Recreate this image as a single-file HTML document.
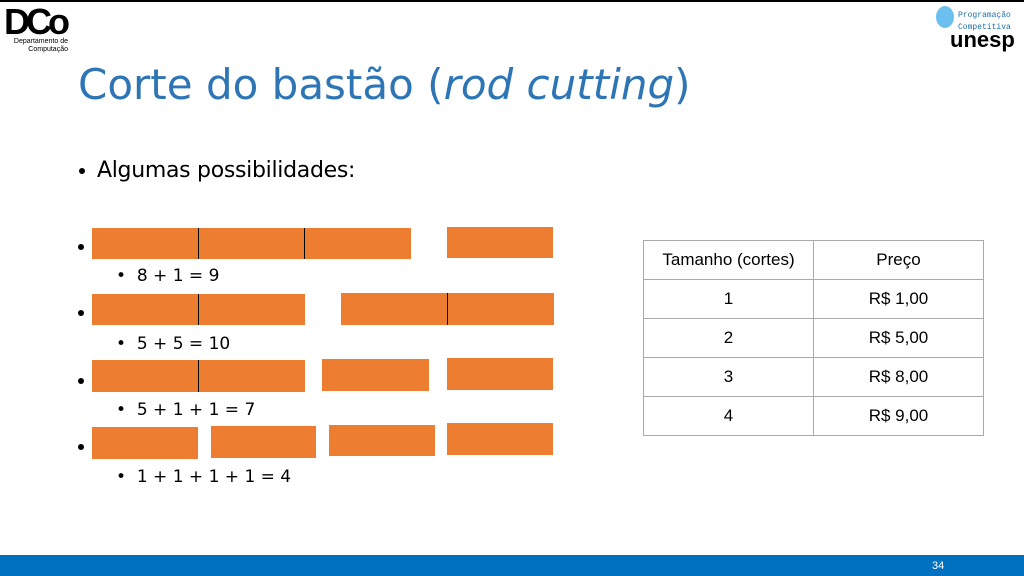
<!DOCTYPE html>
<html><head><style>
body{margin:0;width:1024px;height:576px;position:relative;background:#fff;overflow:hidden;font-family:"Liberation Sans","DejaVu Sans",sans-serif}
.a{position:absolute}
.b{position:absolute;background:#ed7d31}
.d{position:absolute;width:1px;background:#000}
.t{position:absolute;font-family:"DejaVu Sans",sans-serif;font-size:17px;color:#000}
.bl{position:absolute;width:6px;height:6px;border-radius:50%;background:#000}
table{position:absolute;left:643px;top:240px;border-collapse:collapse;font-size:17px}
td{border:1px solid #aaa;height:38px;text-align:center;padding:0}
</style></head><body>
<div class="a" style="left:0;top:0;width:1024px;height:2px;background:#000"></div>
<div class="a" style="left:4px;top:4px;font:bold 36px 'Liberation Sans';letter-spacing:-4px;line-height:36px">DCo</div>
<div class="a" style="left:6px;top:38px;font-size:7px;line-height:8px;text-align:right;width:62px">Departamento de<br>Computação</div>
<div class="a" style="left:936px;top:6px;width:18px;height:22px;border-radius:50%;background:#6cc0f0"></div>
<div class="a" style="left:958px;top:10px;font:8px 'Liberation Mono';color:#1a6fa8;line-height:12px">Programação<br>Competitiva</div>
<div class="a" style="left:950px;top:29px;font:bold 22px 'Liberation Sans';line-height:22px">unesp</div>
<div class="a" style="left:78px;top:58px;font-family:'DejaVu Sans',sans-serif;font-size:42px;color:#2e75b6;line-height:54px">Corte do bastão (<i>rod cutting</i>)</div>
<div class="bl" style="left:79px;top:168px"></div>
<div class="a" style="left:97px;top:155px;font-family:'DejaVu Sans',sans-serif;font-size:22px;line-height:32px;letter-spacing:-0.3px">Algumas possibilidades:</div>
<div class="bl" style="left:78px;top:244px"></div>
<div class="bl" style="left:78px;top:310px"></div>
<div class="bl" style="left:78px;top:378px"></div>
<div class="bl" style="left:78px;top:444px"></div>
<div class="t" style="left:116px;top:266px">•&nbsp; 8 + 1 = 9</div>
<div class="t" style="left:116px;top:334px">•&nbsp; 5 + 5 = 10</div>
<div class="t" style="left:116px;top:400px">•&nbsp; 5 + 1 + 1 = 7</div>
<div class="t" style="left:116px;top:467px">•&nbsp; 1 + 1 + 1 + 1 = 4</div>
<div class="b" style="left:92px;top:228px;width:319px;height:31px"></div>
<div class="d" style="left:198px;top:228px;height:31px"></div><div class="d" style="left:304px;top:228px;height:31px"></div>
<div class="b" style="left:447px;top:227px;width:106px;height:31px"></div>
<div class="b" style="left:92px;top:294px;width:213px;height:31px"></div>
<div class="d" style="left:198px;top:294px;height:31px"></div>
<div class="b" style="left:341px;top:293px;width:213px;height:32px"></div>
<div class="d" style="left:447px;top:293px;height:32px"></div>
<div class="b" style="left:92px;top:360px;width:213px;height:32px"></div>
<div class="d" style="left:198px;top:360px;height:32px"></div>
<div class="b" style="left:322px;top:359px;width:107px;height:32px"></div>
<div class="b" style="left:447px;top:358px;width:106px;height:32px"></div>
<div class="b" style="left:92px;top:427px;width:106px;height:32px"></div>
<div class="b" style="left:211px;top:426px;width:105px;height:32px"></div>
<div class="b" style="left:329px;top:425px;width:106px;height:31px"></div>
<div class="b" style="left:447px;top:423px;width:106px;height:32px"></div>
<table>
<tr><td style="width:169px">Tamanho (cortes)</td><td style="width:169px">Preço</td></tr>
<tr><td>1</td><td>R$ 1,00</td></tr>
<tr><td>2</td><td>R$ 5,00</td></tr>
<tr><td>3</td><td>R$ 8,00</td></tr>
<tr><td>4</td><td>R$ 9,00</td></tr>
</table>
<div class="a" style="left:0;top:555px;width:1024px;height:21px;background:#0070c0"></div>
<div class="a" style="left:932px;top:560px;font-size:11px;color:#fff">34</div>
</body></html>
